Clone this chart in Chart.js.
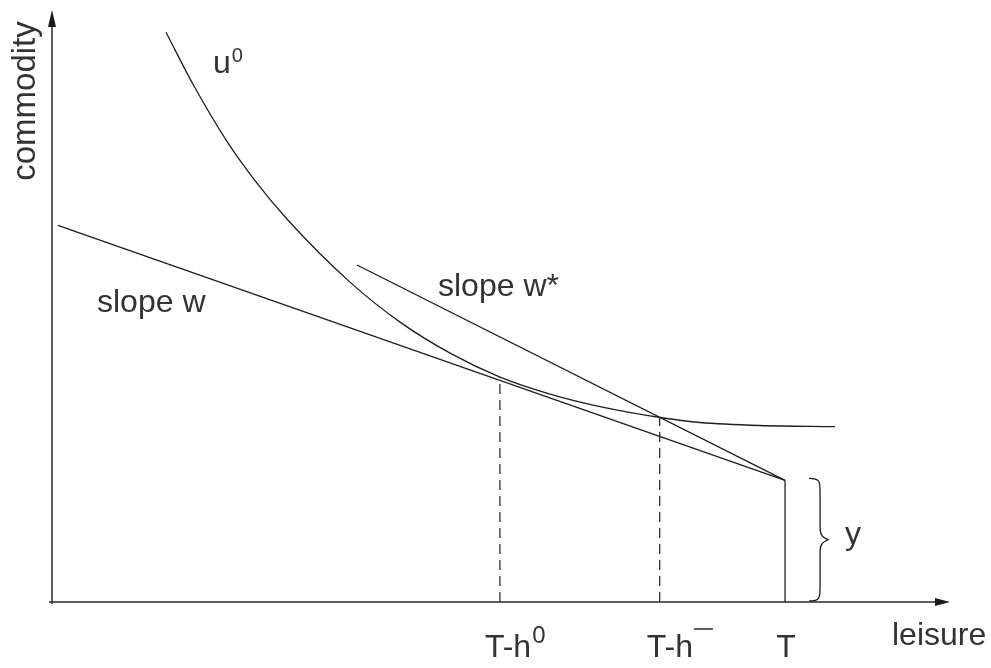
<!DOCTYPE html>
<html>
<head>
<meta charset="utf-8">
<script src="https://cdn.jsdelivr.net/npm/chart.js@4"></script>
<style>
  body { margin: 0; background: #fff; }
  #wrap { width: 991px; height: 668px; }
</style>
</head>
<body>
<div id="wrap"><canvas id="chart"></canvas></div>
<script>
// values (leisure on x, commodity on y)
const T = 10;
const tH0 = 6.11;      // T-h0
const tHbar = 8.29;    // T-h-bar
const income = 1.66;   // y, non labour income at T

const slopeW = [[0.08, 5.14], [T, income]];
const slopeWStar = [[4.16, 4.60], [T, income]];

const u0Leisure = [1.555, 1.924, 2.387, 2.769, 3.22, 4.065, 4.748, 5.43, 6.112, 6.794, 7.476, 8.363, 8.84, 9.659, 10.682];
const u0Commodity = [7.776, 7.066, 6.286, 5.752, 5.211, 4.366, 3.82, 3.397, 3.07, 2.838, 2.667, 2.508, 2.45, 2.409, 2.394];

const dropH0 = 3.07;
const dropHbar = 2.51;

const tickValues = [tH0, tHbar, T];
const tickLabels = ['T-h', 'T-h', 'T'];

const FONT = '"Liberation Sans", Arial, Helvetica, sans-serif';
const INK = '#1e1e1e';
const TEXT = '#333333';

const toPts = arr => arr.map(p => ({ x: p[0], y: p[1] }));
const u0 = u0Leisure.map((v, i) => ({ x: v, y: u0Commodity[i] }));

const lineDs = (data, extra) => Object.assign({
    data: data,
    showLine: true,
    borderColor: INK,
    borderWidth: 1.3,
    pointRadius: 0,
    fill: false
}, extra || {});

// axes, arrows, brace and labels
const diagram = {
    id: 'diagram',
    beforeDatasetsDraw(chart) {
        const { ctx, scales: { x, y } } = chart;
        const x0 = x.getPixelForValue(0), y0 = y.getPixelForValue(0);
        ctx.save();
        ctx.strokeStyle = '#2a2a2a';
        ctx.fillStyle = '#1a1a1a';
        ctx.lineWidth = 1.5;
        ctx.beginPath();
        ctx.moveTo(x0 - 3, y0);
        ctx.lineTo(x.right - 6, y0);
        ctx.moveTo(x0, y0 + 2);
        ctx.lineTo(x0, y.top + 6);
        ctx.stroke();
        ctx.beginPath();
        ctx.moveTo(x.right, y0);
        ctx.lineTo(x.right - 15, y0 - 4);
        ctx.lineTo(x.right - 15, y0 + 4);
        ctx.closePath();
        ctx.fill();
        ctx.beginPath();
        ctx.moveTo(x0, y.top);
        ctx.lineTo(x0 - 4, y.top + 17);
        ctx.lineTo(x0 + 4, y.top + 17);
        ctx.closePath();
        ctx.fill();
        ctx.restore();
    },
    afterDatasetsDraw(chart) {
        const { ctx, scales: { x, y } } = chart;
        const y0 = y.getPixelForValue(0);
        ctx.save();

        // brace for y
        const bx = x.getPixelForValue(T) + 37;
        const top = y.getPixelForValue(income) - 2;
        const bot = y0 - 1;
        const mid = (top + bot) / 2;
        ctx.strokeStyle = INK;
        ctx.lineWidth = 1.3;
        ctx.beginPath();
        ctx.moveTo(bx - 13, top);
        ctx.bezierCurveTo(bx - 2, top, bx - 2, top + 3, bx - 2, top + 14);
        ctx.lineTo(bx - 2, mid - 12);
        ctx.bezierCurveTo(bx - 2, mid - 3, bx + 2, mid - 2, bx + 6, mid);
        ctx.bezierCurveTo(bx + 2, mid + 2, bx - 2, mid + 3, bx - 2, mid + 12);
        ctx.lineTo(bx - 2, bot - 14);
        ctx.bezierCurveTo(bx - 2, bot - 3, bx - 2, bot, bx - 13, bot);
        ctx.stroke();

        ctx.fillStyle = TEXT;
        ctx.textBaseline = 'alphabetic';
        ctx.font = '32px ' + FONT;
        ctx.textAlign = 'left';
        ctx.fillText('y', bx + 23, mid + 4);

        // curve and slope labels
        ctx.fillText('u', 213, 73);
        const uw = ctx.measureText('u').width;
        ctx.font = '20px ' + FONT;
        ctx.fillText('0', 213 + uw + 1, 62);
        ctx.font = '32px ' + FONT;
        ctx.fillText('slope w', 97, 312);
        ctx.fillText('slope w*', 438, 296);
        ctx.fillText('leisure', 892, 645);

        // tick labels under the axis
        const base = y0 + 55;
        tickValues.forEach((v, i) => {
            const px = x.getPixelForValue(v);
            ctx.font = '32px ' + FONT;
            const w = ctx.measureText(tickLabels[i]).width;
            if (i === 0) {
                ctx.fillText(tickLabels[i], px - 15, base);
                ctx.font = '24px ' + FONT;
                ctx.fillText('0', px - 15 + w + 1, base - 14);
            } else if (i === 1) {
                ctx.fillText(tickLabels[i], px - 13, base);
                ctx.strokeStyle = TEXT;
                ctx.lineWidth = 1.6;
                ctx.beginPath();
                ctx.moveTo(px - 13 + w + 1, base - 28);
                ctx.lineTo(px - 13 + w + 20, base - 28);
                ctx.stroke();
            } else {
                ctx.textAlign = 'center';
                ctx.fillText(tickLabels[i], px + 1, base);
                ctx.textAlign = 'left';
            }
        });

        // y axis title
        ctx.translate(35, 101);
        ctx.rotate(-Math.PI / 2);
        ctx.textAlign = 'center';
        ctx.font = '33px ' + FONT;
        ctx.fillText('commodity', 0, 0);
        ctx.restore();
    }
};

new Chart(document.getElementById('chart'), {
    type: 'scatter',
    data: {
        datasets: [
            lineDs(toPts(slopeW)),
            lineDs(toPts(slopeWStar)),
            lineDs(u0, { cubicInterpolationMode: 'monotone' }),
            lineDs([{ x: tH0, y: 0 }, { x: tH0, y: dropH0 }], { borderDash: [10, 6], borderWidth: 1.2 }),
            lineDs([{ x: tHbar, y: 0 }, { x: tHbar, y: dropHbar }], { borderDash: [10, 6], borderWidth: 1.2 }),
            lineDs([{ x: T, y: 0 }, { x: T, y: income }])
        ]
    },
    options: {
        responsive: true,
        maintainAspectRatio: false,
        animation: false,
        layout: { padding: { left: 52, right: 41, top: 10, bottom: 66 } },
        scales: {
            x: { type: 'linear', min: 0, max: 12.25, display: false },
            y: { type: 'linear', min: 0, max: 8.08, display: false }
        },
        plugins: {
            legend: { display: false },
            tooltip: { enabled: false }
        }
    },
    plugins: [diagram]
});
</script>
</body>
</html>
